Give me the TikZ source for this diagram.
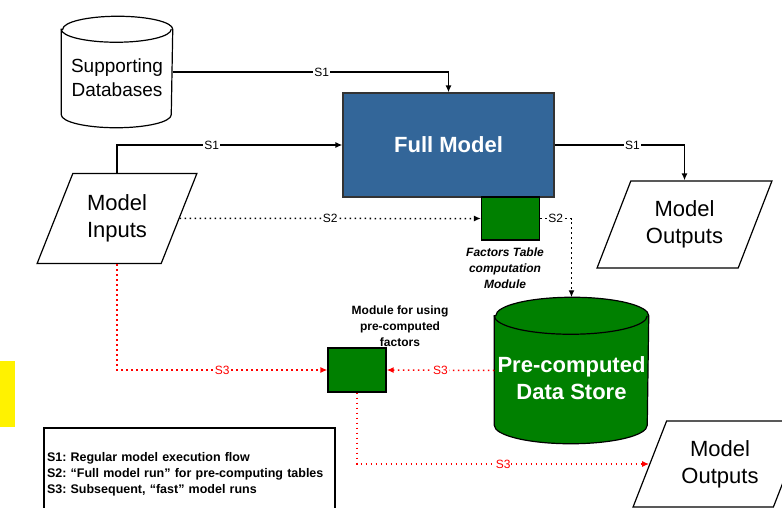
\documentclass[tikz,border=0pt]{standalone}
\usepackage{fontspec}
\setmainfont{Liberation Sans}
\usetikzlibrary{shapes.geometric,arrows.meta}
\definecolor{fmblue}{HTML}{336699}
\definecolor{dkgreen}{HTML}{008000}
\frenchspacing
\begin{document}
\begin{tikzpicture}[x=1pt,y=-1pt,line width=1.5pt,
	db/.style={inner sep=0pt},
	io/.style={trapezium,trapezium left angle=63,trapezium right angle=117,trapezium stretches=true,
		draw,line width=1.2pt,align=center,inner sep=0pt,font=\fontsize{22}{27}\selectfont},
	mod/.style={draw,line width=1.2pt,fill=dkgreen,minimum width=58pt,minimum height=43pt},
	modcap/.style={align=center,font=\fontsize{12}{16}\selectfont\bfseries},
	lbl/.style={fill=white,inner sep=1pt,font=\fontsize{12}{14}\selectfont},
	s1/.style={-{Latex[length=7pt,width=6pt]}},
	s2/.style={dash pattern=on 1.5pt off 3.5pt,-{Latex[length=7pt,width=6pt]}},
	s3/.style={s2,red}]
	\useasboundingbox (0,0) rectangle (782,508);
	\fill[yellow] (0,361) rectangle (15,427);
	% the two data stores: plain nodes, cylinders drawn round them
	\node[db,minimum width=110pt,minimum height=110pt] (sdb) at (117,72) {};
	\node[db,minimum width=153pt,minimum height=145pt] (store) at (571.5,370.5) {};
	\foreach \n/\rx/\ry/\c in {sdb/55/13/white,store/76.5/18.5/dkgreen} {
		\draw[fill=\c,line width=1.2pt] ([yshift=-\ry pt]\n.north west) -- ([yshift=\ry pt]\n.south west)
			arc[start angle=180,end angle=360,x radius=\rx pt,y radius=\ry pt]
			-- ([yshift=-\ry pt]\n.north east)
			arc[start angle=0,end angle=180,x radius=\rx pt,y radius=\ry pt] -- cycle;
		\draw[line width=1.2pt] ([yshift=-\ry pt]\n.north west) arc[start angle=180,end angle=360,x radius=\rx pt,y radius=\ry pt];
	}
	\node[align=center,font=\fontsize{19}{24}\selectfont] (sdbtxt) at (117,78) {Supporting\\Databases};
	\node[align=center,text=white,font=\fontsize{22}{27}\selectfont\bfseries] (storetxt) at (571.5,378.5) {Pre-computed\\Data Store};
	% model boxes
	\node[draw=black!80,line width=1.2pt,fill=fmblue,minimum width=211pt,minimum height=104pt,text=white,
		font=\fontsize{22}{26}\selectfont\bfseries] (fm) at (448.5,145) {Full Model};
	\node[mod] (ftc) at (510.5,218.5) {};
	\node[modcap,font=\fontsize{12}{16}\selectfont\bfseries\itshape] (ftclbl) at (505,268) {Factors Table\\computation\\Module};
	\node[mod,minimum height=44pt] (umod) at (357,370) {};
	\node[modcap] (umodlbl) at (400,326) {Module for using\\pre-computed\\factors};
	% inputs and outputs
	\node[io,minimum width=160pt,minimum height=90pt] (inputs) at (117,218.5) {Model\\Inputs};
	\node[io,minimum width=175pt,minimum height=87pt] (outA) at (684.5,224.5) {Model\\Outputs};
	\node[io,minimum width=174pt,minimum height=86pt] (outB) at (720,464) {Model\\Outputs};
	% legend
	\node[draw,line width=1.2pt,minimum width=291pt,minimum height=92pt,text width=285pt,align=left,inner sep=2pt,
		font=\fontsize{12.5}{16}\selectfont\bfseries] (legend) at (189.5,474)
		{S1: Regular model execution flow\\S2: “Full model run” for pre-computing tables\\S3: Subsequent, “fast” model runs};
	% S1: regular run
	\draw[s1] (sdb.east) -| node[lbl,pos=0.27] {S1} (fm.north);
	\draw[s1] (inputs.north) |- node[lbl,pos=0.71] {S1} (fm.west);
	\draw[s1] (fm.east) -| node[lbl,pos=0.3] {S1} (outA.north);
	% S2: full run, fills the store
	\draw[s2] (inputs.east) -- node[lbl] {S2} (ftc.west);
	\draw[s2] (ftc.east) -| node[lbl,pos=0.25] {S2} (store.north);
	% S3: fast runs
	\draw[s3] (inputs.south) |- node[lbl,pos=0.75] {S3} (umod.west);
	\draw[s3] (store.west) -- node[lbl] {S3} (umod.east);
	\draw[s3] (umod.south) |- node[lbl,pos=0.75] {S3} (outB.west);
\end{tikzpicture}
\end{document}
